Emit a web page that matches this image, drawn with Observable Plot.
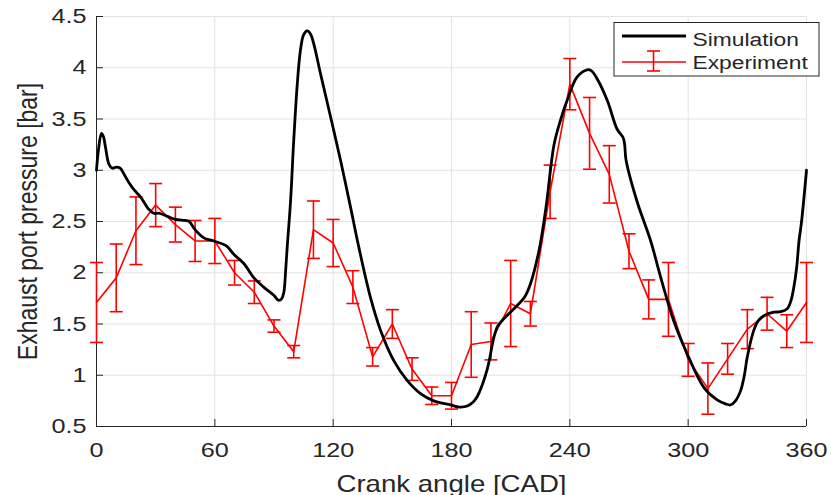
<!DOCTYPE html>
<html><head><meta charset="utf-8">
<script src="https://cdn.jsdelivr.net/npm/d3@7"></script>
<script src="https://cdn.jsdelivr.net/npm/@observablehq/plot@0.6"></script>
<style>body{margin:0;background:#fff;}</style>
</head><body><div id="chart"></div>
<script>
// ---- data ----
const simAngle = [0,1,2.5,3.5,4.6,6.3,8,10,12,14,16.4,19,22.3,26.5,29,32,36,40,45,47,50,54.4,59.5,66,69.6,74.7,79.8,84.8,89.9,92.4,94,95,96,96.7,98.4,100,101.8,103.4,105,106.8,108.5,110.2,113.6,118.7,123.7,128.8,133,138.9,144,150.8,157.5,164.3,171,179.5,184,188,191,193,198,201.5,203.5,206.5,213.3,217,220,224.4,228,232,235.3,238.6,243.7,248.8,251,253.9,259,264,267,267.8,268.5,274,281,286,292.7,299.5,308,314.7,319,321.5,324,326.6,328.5,330,333.3,335.5,338.4,343.5,347,350.3,352,353.6,355,356.2,357.5,360];
const simPressure = [3.00,3.20,3.36,3.33,3.22,3.06,3.02,3.03,3.02,2.96,2.88,2.81,2.74,2.62,2.58,2.58,2.55,2.52,2.51,2.50,2.42,2.34,2.31,2.26,2.18,2.09,1.95,1.86,1.78,1.73,1.75,1.81,2.05,2.25,2.70,3.29,3.84,4.17,4.32,4.36,4.33,4.23,3.94,3.52,3.10,2.64,2.25,1.76,1.44,1.14,0.95,0.82,0.75,0.71,0.69,0.70,0.74,0.79,1.05,1.37,1.48,1.55,1.68,1.76,1.89,2.22,2.65,3.25,3.49,3.68,3.91,3.98,3.97,3.89,3.68,3.40,3.32,3.25,3.10,2.70,2.31,1.96,1.53,1.21,0.88,0.76,0.72,0.71,0.75,0.85,1.00,1.18,1.44,1.53,1.58,1.615,1.62,1.65,1.72,1.86,2.05,2.31,2.50,3.00];
const expAngle = [0,10,20,30,40,50,60,70,80,90,100,110,120,130,140,150,160,170,180,190,200,210,220,230,240,250,260,270,280,290,300,310,320,330,340,350,360];
const expPressure = [1.71,1.95,2.41,2.66,2.47,2.31,2.31,2.00,1.81,1.48,1.23,2.42,2.29,1.86,1.18,1.50,1.06,0.80,0.80,1.30,1.33,1.70,1.60,2.79,3.84,3.36,2.96,2.21,1.74,1.74,1.15,0.87,1.16,1.45,1.60,1.43,1.71];
const expError = [0.39,0.33,0.33,0.21,0.17,0.20,0.22,0.12,0.11,0.06,0.06,0.28,0.23,0.16,0.09,0.14,0.11,0.085,0.13,0.32,0.18,0.42,0.12,0.26,0.25,0.35,0.28,0.17,0.19,0.36,0.16,0.25,0.15,0.19,0.16,0.16,0.39];
const xTicks = [0,60,120,180,240,300,360];
const yTicks = [0.5,1,1.5,2,2.5,3,3.5,4,4.5];
const seriesNames = ["Simulation","Experiment"];
const xLabel = "Crank angle [CAD]";
const yLabel = "Exhaust port pressure [bar]";

// ---- build ----
const sim = simAngle.map((a,i)=>({angle:a, p:simPressure[i]}));
const exp = expAngle.map((a,i)=>({angle:a, p:expPressure[i], lo:expPressure[i]-expError[i], hi:expPressure[i]+expError[i]}));
const capSymbol = {draw(ctx, size){ const w = Math.sqrt(size/Math.PI); ctx.moveTo(-w,0); ctx.lineTo(w,0); }};
const RED = "#ff0000", INK = "#262626", GRID = "#e3e3e3";
const FONT = "'Liberation Sans', Arial, Helvetica, sans-serif";

const chart = Plot.plot({
  width: 831, height: 495,
  marginLeft: 96, marginRight: 25, marginTop: 16, marginBottom: 69,
  style: {fontFamily: FONT, fontSize: "21px", color: INK, background: "#fff", overflow: "visible"},
  x: {domain: [0, 360]},
  y: {domain: [0.5, 4.5]},
  marks: [
    Plot.gridX(xTicks, {stroke: GRID, strokeOpacity: 1, strokeWidth: 1}),
    Plot.gridY(yTicks, {stroke: GRID, strokeOpacity: 1, strokeWidth: 1}),
    Plot.ruleX([xTicks[0]], {stroke: INK, strokeWidth: 1}),
    Plot.ruleY([yTicks[0]], {stroke: INK, strokeWidth: 1}),
    Plot.ruleX(xTicks, {stroke: INK, strokeWidth: 1, insetTop: 403}),
    Plot.ruleY(yTicks, {stroke: INK, strokeWidth: 1, insetRight: 703}),
    Plot.ruleX(exp, {x: "angle", y1: "lo", y2: "hi", stroke: RED, strokeWidth: 1.6}),
    Plot.dot(exp, {x: "angle", y: "lo", symbol: capSymbol, r: 6.5, stroke: RED, strokeWidth: 1.6, fill: "none"}),
    Plot.dot(exp, {x: "angle", y: "hi", symbol: capSymbol, r: 6.5, stroke: RED, strokeWidth: 1.6, fill: "none"}),
    Plot.line(exp, {x: "angle", y: "p", stroke: RED, strokeWidth: 1.6}),
    Plot.line(sim, {x: "angle", y: "p", stroke: "#000", strokeWidth: 2.8, curve: "catmull-rom"}),
    Plot.axisX({ticks: xTicks, tickSize: 0, tickPadding: 16, label: null, fontSize: 21}),
    Plot.axisY({ticks: yTicks, tickSize: 0, tickPadding: 10, label: null, fontSize: 21, tickFormat: d => String(d)}),
    Plot.text([xLabel], {text: d => d, frameAnchor: "bottom", dy: 65, lineAnchor: "bottom", textAnchor: "middle", fontSize: 23}),
    Plot.text([yLabel], {text: d => d, frameAnchor: "left", dx: -59.5, rotate: -90, lineAnchor: "bottom", textAnchor: "middle", fontSize: 23})
  ]
});
document.getElementById("chart").appendChild(chart);

// ---- legend ----
const svg = d3.select(chart.tagName.toLowerCase() === "svg" ? chart : chart.querySelector("svg"));
const lg = svg.append("g").attr("class", "legend");
lg.append("rect").attr("x", 614).attr("y", 22.5).attr("width", 205).attr("height", 53.5)
  .attr("fill", "#fff").attr("stroke", INK).attr("stroke-width", 1);
lg.append("line").attr("x1", 622).attr("x2", 686).attr("y1", 36).attr("y2", 36).attr("stroke", "#000").attr("stroke-width", 2.8);
lg.append("line").attr("x1", 622).attr("x2", 686).attr("y1", 62).attr("y2", 62).attr("stroke", RED).attr("stroke-width", 1.6);
lg.append("line").attr("x1", 653.5).attr("x2", 653.5).attr("y1", 51).attr("y2", 71).attr("stroke", RED).attr("stroke-width", 1.6);
lg.append("line").attr("x1", 647).attr("x2", 660).attr("y1", 51).attr("y2", 51).attr("stroke", RED).attr("stroke-width", 1.6);
lg.append("line").attr("x1", 647).attr("x2", 660).attr("y1", 71).attr("y2", 71).attr("stroke", RED).attr("stroke-width", 1.6);
seriesNames.forEach((name, i) => {
  lg.append("text").attr("x", 692.5).attr("y", i === 0 ? 46 : 69).attr("text-anchor", "start")
    .attr("font-family", FONT).attr("font-size", 19).attr("fill", INK).text(name);
});

// ---- horizontal stretch of all text (reference glyphs are wide) ----
svg.selectAll("text").each(function() {
  const t = this.getAttribute("transform") || "";
  const rot = /rotate\(\s*-90/.test(t);
  const x = parseFloat(this.getAttribute("x")) || 0;
  const y = parseFloat(this.getAttribute("y")) || 0;
  const s = rot ? "1,1.2" : "1.2,1";
  this.setAttribute("transform", `${t} translate(${x},${y}) scale(${s}) translate(${-x},${-y})`);
});
</script>
</body></html>
